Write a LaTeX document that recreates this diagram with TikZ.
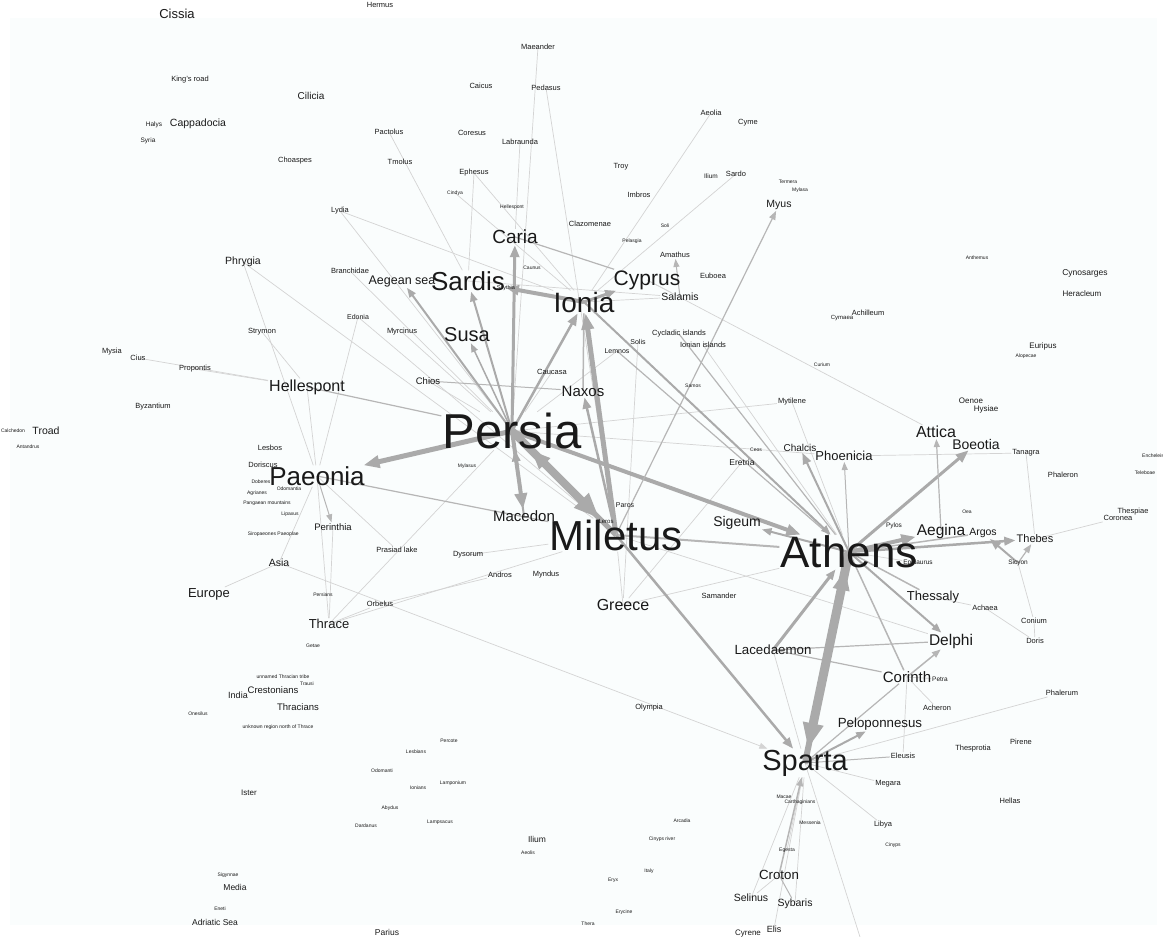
\documentclass[tikz,border=0pt]{standalone}
\usepackage{fontspec}
\setmainfont{Liberation Sans}
\usetikzlibrary{arrows.meta,backgrounds}
\definecolor{paper}{RGB}{250,253,253}
\definecolor{linklight}{RGB}{212,212,212}
\definecolor{linkmid}{RGB}{182,182,182}
\definecolor{linkdark}{RGB}{170,170,170}

\begin{document}
\begin{tikzpicture}[x=1pt,y=-1pt,
    place/.style={inner sep=1pt, text=black!90, font=\fontsize{#1}{#1}\selectfont},
    faint/.style={draw=linklight, line width=0.7pt},
    link/.style={draw=linkmid, line width=#1pt},
    heavy/.style={draw=linkdark, line width=#1pt},
    tipped/.style={-{Triangle[length=8pt,width=6pt,scale=#1]}}]
    \useasboundingbox (0,0) rectangle (1163,937);

    % main places
    \node[place=49] (persia) at (512,431) {Persia};
    \node[place=42] (miletus) at (616,535) {Miletus};
    \node[place=44] (athens) at (849,552) {Athens};
    \node[place=29] (sparta) at (805,763) {Sparta};
    \node[place=26] (paeonia) at (317,476) {Paeonia};
    \node[place=26] (sardis) at (468,281) {Sardis};
    \node[place=28] (ionia) at (584,302) {Ionia};
    \node[place=21] (cyprus) at (647,280) {Cyprus};
    \node[place=19] (caria) at (515,237) {Caria};
    \node[place=20] (susa) at (467,335) {Susa};
    \node[place=15] (naxos) at (583,391) {Naxos};
    \node[place=15] (macedon) at (524,516) {Macedon};
    \node[place=16] (hellespont) at (307,387) {Hellespont};
    \node[place=16] (greece) at (623,605) {Greece};
    \node[place=14] (sigeum) at (737,523) {Sigeum};
    \node[place=16] (attica) at (936,432) {Attica};
    \node[place=14] (boeotia) at (976,444) {Boeotia};
    \node[place=15.5] (aegina) at (941,531) {Aegina};
    \node[place=10.5] (argos) at (983,533) {Argos};
    \node[place=11] (thebes) at (1035,539) {Thebes};
    \node[place=15.5] (delphi) at (951,641) {Delphi};
    \node[place=15] (corinth) at (907,677) {Corinth};
    \node[place=13.3] (peloponnesus) at (880,724) {Peloponnesus};
    \node[place=13.3] (lacedaemon) at (773,650) {Lacedaemon};
    \node[place=13] (thessaly) at (933,597) {Thessaly};
    \node[place=13] (phoenicia) at (844,456) {Phoenicia};
    \node[place=10] (chalcis) at (800,448) {Chalcis};
    \node[place=13.3] (croton) at (779,875) {Croton};
    \node[place=10.5] (selinus) at (751,898) {Selinus};
    \node[place=10.5] (sybaris) at (795,904) {Sybaris};
    \node[place=9] (elis) at (774,929) {Elis};
    \node[place=8] (cyrene) at (748,934) {Cyrene};
    \node[place=13] (thrace) at (329,624) {Thrace};
    \node[place=13] (europe) at (209,594) {Europe};
    \node[place=13] (cissia) at (177,14) {Cissia};
    \node[place=10.5] (cappadocia) at (198,124) {Cappadocia};
    \node[place=10] (cilicia) at (311,96) {Cilicia};
    \node[place=10.5] (phrygia) at (243,262) {Phrygia};
    \node[place=10.5] (troad) at (46,431) {Troad};
    \node[place=10.5] (myus) at (779,205) {Myus};
    \node[place=12.5] (aegeansea) at (402,281) {Aegean sea};
    \node[place=10.5] (asia) at (279,563) {Asia};
    \node[place=9.5] (chios) at (428,381) {Chios};
    \node[place=9.5] (perinthia) at (333,527) {Perinthia};
    \node[place=9.5] (crestonians) at (273,690) {Crestonians};
    \node[place=9.5] (thracians) at (298,707) {Thracians};
    \node[place=9] (india) at (238,695) {India};
    \node[place=8] (ister) at (249,793) {Ister};
    \node[place=8.5] (media) at (235,887) {Media};
    \node[place=8.5] (adriatic) at (215,922) {Adriatic Sea};
    \node[place=8.5] (iliumb) at (537,839) {Ilium};
    \node[place=8.5] (parius) at (387,932) {Parius};
    \node[place=10.5] (salamis) at (680,297) {Salamis};

    % smaller places
    \node[place=7.5] (kingsroad) at (190,80) {King's road};
    \node[place=6.5] (halys) at (154,125) {Halys};
    \node[place=6.5] (syria) at (148,141) {Syria};
    \node[place=7.5] (hermus) at (380,5) {Hermus};
    \node[place=7.5] (choaspes) at (295,161) {Choaspes};
    \node[place=7.5] (pactolus) at (389,132) {Pactolus};
    \node[place=7.5] (tmolus) at (400,162) {Tmolus};
    \node[place=7.5] (coresus) at (472,133) {Coresus};
    \node[place=7.5] (caicus) at (481,86) {Caicus};
    \node[place=7.5] (maeander) at (538,47) {Maeander};
    \node[place=7.5] (pedasus) at (546,88) {Pedasus};
    \node[place=7.5] (labraunda) at (520,142) {Labraunda};
    \node[place=7.5] (ephesus) at (474,173) {Ephesus};
    \node[place=7.5] (lydia) at (340,211) {Lydia};
    \node[place=7.5] (clazomenae) at (590,224) {Clazomenae};
    \node[place=7.5] (branchidae) at (350,271) {Branchidae};
    \node[place=7.5] (amathus) at (675,255) {Amathus};
    \node[place=7.5] (euboea) at (713,276) {Euboea};
    \node[place=7.5] (aeolia) at (711,113) {Aeolia};
    \node[place=7.5] (cyme) at (748,123) {Cyme};
    \node[place=7.5] (troy) at (621,167) {Troy};
    \node[place=7.5] (imbros) at (639,195) {Imbros};
    \node[place=6.5] (ilium) at (711,176) {Ilium};
    \node[place=7.5] (sardo) at (736,174) {Sardo};
    \node[place=8.5] (cynosarges) at (1085,273) {Cynosarges};
    \node[place=8] (heracleum) at (1082,294) {Heracleum};
    \node[place=7.5] (achilleum) at (868,313) {Achilleum};
    \node[place=6] (cymaea) at (842,318) {Cymaea};
    \node[place=7.5] (mytilene) at (792,402) {Mytilene};
    \node[place=7.5] (cycladic) at (679,334) {Cycladic islands};
    \node[place=7.5] (ionian) at (703,345) {Ionian islands};
    \node[place=7] (solis) at (638,342) {Solis};
    \node[place=7] (lemnos) at (617,351) {Lemnos};
    \node[place=7.5] (caucasa) at (552,372) {Caucasa};
    \node[place=7.5] (myrcinus) at (402,332) {Myrcinus};
    \node[place=7] (edonia) at (358,317) {Edonia};
    \node[place=7.5] (strymon) at (262,332) {Strymon};
    \node[place=7.5] (mysia) at (112,352) {Mysia};
    \node[place=7.5] (cius) at (138,358) {Cius};
    \node[place=7.5] (propontis) at (195,369) {Propontis};
    \node[place=7.5] (byzantium) at (153,407) {Byzantium};
    \node[place=7.5] (lesbos) at (270,448) {Lesbos};
    \node[place=7.5] (doriscus) at (263,465) {Doriscus};
    \node[place=7.5] (prasiad) at (397,550) {Prasiad lake};
    \node[place=7.5] (dysorum) at (468,555) {Dysorum};
    \node[place=7.5] (andros) at (500,575) {Andros};
    \node[place=7.5] (myndus) at (546,575) {Myndus};
    \node[place=7.5] (orbelus) at (380,604) {Orbelus};
    \node[place=8.5] (eretria) at (742,462) {Eretria};
    \node[place=7.5] (samander) at (719,596) {Samander};
    \node[place=7] (paros) at (625,505) {Paros};
    \node[place=6] (leros) at (606,521) {Leros};
    \node[place=8] (oenoe) at (971,401) {Oenoe};
    \node[place=8] (hysiae) at (986,409) {Hysiae};
    \node[place=8] (euripus) at (1043,346) {Euripus};
    \node[place=7.5] (tanagra) at (1026,453) {Tanagra};
    \node[place=7.5] (phaleron) at (1063,475) {Phaleron};
    \node[place=7.5] (thespiae) at (1133,512) {Thespiae};
    \node[place=7.5] (coronea) at (1118,518) {Coronea};
    \node[place=7.5] (achaea) at (985,608) {Achaea};
    \node[place=7.5] (conium) at (1034,621) {Conium};
    \node[place=7.5] (doris) at (1035,641) {Doris};
    \node[place=7.5] (phalerum) at (1062,693) {Phalerum};
    \node[place=7.5] (acheron) at (937,708) {Acheron};
    \node[place=7.5] (pirene) at (1021,742) {Pirene};
    \node[place=7.5] (thesprotia) at (973,749) {Thesprotia};
    \node[place=7.5] (eleusis) at (903,756) {Eleusis};
    \node[place=7.5] (megara) at (888,784) {Megara};
    \node[place=7.5] (hellas) at (1010,801) {Hellas};
    \node[place=7.5] (libya) at (883,825) {Libya};
    \node[place=7.5] (olympia) at (649,708) {Olympia};
    \node[place=6.5] (pylos) at (894,526) {Pylos};
    \node[place=6.5] (epidaurus) at (918,563) {Epidaurus};
    \node[place=6.5] (sicyon) at (1018,563) {Sicyon};
    \node[place=6.5] (petra) at (940,679) {Petra};

    % tiny places
    \node[place=5] (cindya) at (455,193) {Cindya};
    \node[place=5] (hellespontb) at (512,207) {Hellespont};
    \node[place=5] (caunus) at (532,268) {Caunus};
    \node[place=5.5] (scythia) at (506,288) {Scythia};
    \node[place=5] (soli) at (665,226) {Soli};
    \node[place=5] (pelasgia) at (632,241) {Pelasgia};
    \node[place=5] (termera) at (788,182) {Termera};
    \node[place=5] (mylasa) at (800,190) {Mylasa};
    \node[place=5] (anthemus) at (977,258) {Anthemus};
    \node[place=5] (curium) at (822,365) {Curium};
    \node[place=5] (samos) at (693,386) {Samos};
    \node[place=5] (ceos) at (756,450) {Ceos};
    \node[place=5] (mylasus) at (467,466) {Mylasus};
    \node[place=5] (calchedon) at (13,431) {Calchedon};
    \node[place=5] (antandrus) at (28,447) {Antandrus};
    \node[place=5] (doberes) at (261,482) {Doberes};
    \node[place=5] (odomantia) at (289,489) {Odomantia};
    \node[place=5] (agrianes) at (257,493) {Agrianes};
    \node[place=5] (pangaean) at (267,503) {Pangaean mountains};
    \node[place=5] (lipaxus) at (290,514) {Lipaxus};
    \node[place=5] (siropaeones) at (262,534) {Siropaeones};
    \node[place=5] (paeoplae) at (288,534) {Paeoplae};
    \node[place=5] (persians) at (323,595) {Persians};
    \node[place=5] (getae) at (313,646) {Getae};
    \node[place=5] (alopecae) at (1026,356) {Alopecae};
    \node[place=5] (encheleis) at (1153,456) {Encheleis};
    \node[place=5] (teleboae) at (1145,473) {Teleboae};
    \node[place=5] (oea) at (967,512) {Oea};
    \node[place=5] (cinyps) at (893,845) {Cinyps};
    \node[place=5] (macae) at (784,797) {Macae};
    \node[place=5] (carthaginians) at (800,802) {Carthaginians};
    \node[place=5] (messenia) at (810,823) {Messenia};
    \node[place=5] (egesta) at (787,850) {Egesta};
    \node[place=5] (arcadia) at (682,821) {Arcadia};
    \node[place=5] (cinypsriver) at (662,839) {Cinyps river};
    \node[place=5] (italy) at (649,871) {Italy};
    \node[place=5] (eryx) at (613,880) {Eryx};
    \node[place=5] (erycine) at (624,912) {Erycine};
    \node[place=5] (thera) at (588,924) {Thera};
    \node[place=5] (aeolis) at (528,853) {Aeolis};
    \node[place=5] (percote) at (449,741) {Percote};
    \node[place=5] (lesbians) at (416,752) {Lesbians};
    \node[place=5] (odomanti) at (382,771) {Odomanti};
    \node[place=5] (lamponium) at (453,783) {Lamponium};
    \node[place=5] (ionians) at (418,788) {Ionians};
    \node[place=5] (abydus) at (390,808) {Abydus};
    \node[place=5] (dardanus) at (366,826) {Dardanus};
    \node[place=5] (lampsacus) at (440,822) {Lampsacus};
    \node[place=5] (unnamed) at (283,677) {unnamed Thracian tribe};
    \node[place=5] (trausi) at (307,684) {Trausi};
    \node[place=5] (onesilus) at (198,714) {Onesilus};
    \node[place=5] (unknown) at (278,727) {unknown region north of Thrace};
    \node[place=5] (sigynnae) at (228,875) {Sigynnae};
    \node[place=5] (eneti) at (220,909) {Eneti};
    \coordinate (southend) at (860,937);

    \begin{scope}[on background layer]
        \fill[white] (0,0) rectangle (1163,937);
        \fill[paper] (10,18) rectangle (1157,925);

        % thin links
        \foreach \a/\b in {asia/europe, asia/paeonia, cius/hellespont, propontis/hellespont,
            strymon/hellespont, phrygia/paeonia, phrygia/miletus, lydia/ionia, lydia/persia,
            pactolus/sardis, ephesus/sardis, ephesus/ionia, cindya/ionia, maeander/persia,
            pedasus/miletus, labraunda/caria, aeolia/ionia, sardo/ionia, branchidae/persia,
            paeonia/thrace, paeonia/prasiad, thrace/persia, thrace/miletus, thrace/orbelus,
            perinthia/thrace, orbelus/andros, greece/miletus, greece/athens, phoenicia/tanagra,
            tanagra/thebes, thebes/coronea, cyprus/attica, thessaly/achaea, corinth/acheron,
            corinth/petra, corinth/eleusis, lacedaemon/sparta, persia/mytilene, sparta/libya,
            sparta/megara, myrcinus/persia, caucasa/persia, edonia/miletus, persia/phoenicia,
            ionia/salamis, eretria/greece, sparta/southend, conium/doris, achaea/doris,
            sicyon/conium, athens/epidaurus, hellespont/paeonia, sparta/phalerum,
            croton/selinus, sybaris/sparta, elis/sparta, selinus/sparta, egesta/sparta,
            mytilene/athens, ionian/athens, dysorum/miletus, lemnos/persia, solis/greece,
            miletus/delphi, cyprus/salamis, sardis/salamis, edonia/paeonia, chios/persia}
            \draw[faint] (\a.center) -- (\b);

        % middle links
        \draw[link=1.2] (hellespont.center) -- (persia);
        \draw[link=1] (chios.center) -- (naxos);
        \draw[link=1.2] (caria.center) -- (cyprus);
        \draw[link=1.2] (paeonia.center) -- (miletus);
        \draw[link=1.2] (cycladic.center) -- (athens);
        \draw[link=1.2] (lemnos.center) -- (athens);
        \draw[link=1.5] (athens.center) -- (thessaly);
        \draw[link=1.5] (athens.center) -- (corinth);
        \draw[link=1.5] (athens.center) -- (argos);
        \draw[link=1.2] (lacedaemon.center) -- (delphi);
        \draw[link=1.2] (lacedaemon.center) -- (corinth);
        \draw[link=1.2] (sparta.center) -- (corinth);
        \draw[link=1] (sparta.center) -- (eleusis);
        \draw[link=1] (croton.center) -- (sybaris);
        \draw[link=2] (miletus.center) -- (athens);
        \draw[link=1.5] (naxos.center) -- (ionia);

        % links with tips
        \draw[heavy=8, tipped=3.2] (persia.center) -- (miletus);
        \draw[heavy=5, tipped=2.4] (miletus.center) -- (persia);
        \draw[heavy=5, tipped=2] (persia.center) -- (paeonia);
        \draw[heavy=4, tipped=1.8] (persia.center) -- (athens);
        \draw[heavy=3, tipped=1.5] (persia.center) -- (caria);
        \draw[heavy=4, tipped=2] (persia.center) -- (macedon);
        \draw[heavy=2, tipped=1.4] (macedon.center) -- (persia);
        \draw[heavy=5, tipped=2] (miletus.center) -- (ionia);
        \draw[heavy=2.5, tipped=1.5] (persia.center) -- (ionia);
        \draw[heavy=4, tipped=1.6] (ionia.center) -- (sardis);
        \draw[heavy=2, tipped=1.2] (persia.center) -- (sardis);
        \draw[heavy=1.5, tipped=1.1] (persia.center) -- (susa);
        \draw[heavy=2, tipped=1.2] (persia.center) -- (aegeansea);
        \draw[heavy=3, tipped=1.4] (ionia.center) -- (cyprus);
        \draw[heavy=2.5, tipped=1.4] (miletus.center) -- (naxos);
        \draw[heavy=9, tipped=3.2] (athens.center) -- (sparta);
        \draw[heavy=6, tipped=2.6] (sparta.center) -- (athens);
        \draw[heavy=3, tipped=1.3] (lacedaemon.center) -- (athens);
        \draw[heavy=2.5, tipped=1.4] (miletus.center) -- (sparta);
        \draw[heavy=2, tipped=1.2] (ionia.center) -- (athens);
        \draw[heavy=3, tipped=1.6] (athens.center) -- (boeotia);
        \draw[heavy=4, tipped=1.8] (athens.center) -- (aegina);
        \draw[heavy=2.5, tipped=1.4] (athens.center) -- (thebes);
        \draw[heavy=2, tipped=1.4] (sicyon.center) -- (argos);
        \draw[link=1.2, tipped=1.1] (sicyon.center) -- (thebes);
        \draw[link=1.2, tipped=1] (aegina.center) -- (attica);
        \draw[heavy=2, tipped=1.4] (athens.center) -- (chalcis);
        \draw[link=1, tipped=1] (athens.center) -- (phoenicia);
        \draw[heavy=2, tipped=1.2] (athens.center) -- (sigeum);
        \draw[heavy=2, tipped=1.2] (athens.center) -- (delphi);
        \draw[link=1.5, tipped=1.1] (corinth.center) -- (delphi);
        \draw[heavy=2, tipped=1.2] (sparta.center) -- (peloponnesus);
        \draw[link=1.5, tipped=1.1] (croton.center) -- (sparta);
        \draw[link=1.2, tipped=1.1] (miletus.center) -- (myus);
        \draw[link=1, tipped=1] (salamis.center) -- (amathus);
        \draw[link=1, tipped=1] (paeonia.center) -- (perinthia);
        \draw[faint, tipped=1] (asia.center) -- (sparta);
    \end{scope}
\end{tikzpicture}
\end{document}
